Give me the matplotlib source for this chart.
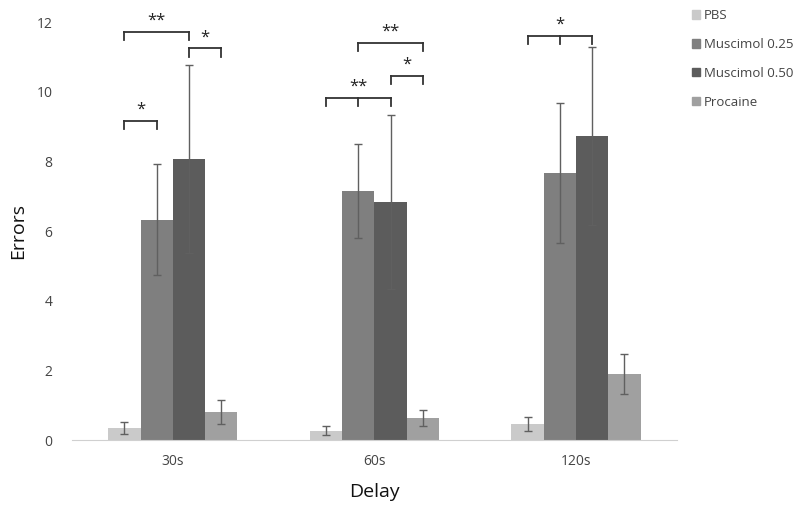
import matplotlib
matplotlib.use("Agg")
import matplotlib.pyplot as plt
import numpy as np
from matplotlib.patches import Patch

plt.rcParams['font.family'] = ['Open Sans', 'DejaVu Sans']

delays = ["30s", "60s", "120s"]
series = ["PBS", "Muscimol 0.25", "Muscimol 0.50", "Procaine"]
colors = ["#cacaca", "#7f7f7f", "#5c5c5c", "#a0a0a0"]

pbs = [0.35, 0.26, 0.46]
pbs_err = [0.18, 0.13, 0.2]
mus25 = [6.33, 7.15, 7.67]
mus25_err = [1.6, 1.35, 2.0]
mus50 = [8.08, 6.83, 8.73]
mus50_err = [2.7, 2.5, 2.55]
procaine = [0.81, 0.63, 1.9]
procaine_err = [0.35, 0.22, 0.57]

values = [pbs, mus25, mus50, procaine]
errors = [pbs_err, mus25_err, mus50_err, procaine_err]

# significance brackets: (group, bar indices spanned, level, label)
brackets = [
    (0, [0, 1], 9.17, "*"),
    (0, [0, 2], 11.72, "**"),
    (0, [2, 3], 11.24, "*"),
    (1, [1, 3], 11.41, "**"),
    (1, [2, 3], 10.46, "*"),
    (1, [0, 1, 2], 9.83, "**"),
    (2, [0, 1, 2], 11.61, "*"),
]

fig = plt.figure(figsize=(8, 5.12), dpi=100)
ax = fig.add_axes([0.09, 0.1406, 0.756, 0.8164])

x = np.arange(len(delays))
w = 0.16
offsets = (np.arange(len(series)) - 1.5) * w
for i, (vals, errs) in enumerate(zip(values, errors)):
    ax.bar(x + offsets[i], vals, width=w, color=colors[i], label=series[i],
           yerr=errs, error_kw=dict(ecolor="#606060", elinewidth=1.0,
                                    capsize=3, capthick=1.0))

tick_h = 0.23
for g, idx, lvl, lab in brackets:
    xs = [g + offsets[k] for k in idx]
    ax.plot([xs[0], xs[-1]], [lvl, lvl], color="#333333", lw=1.3)
    for xx in xs:
        ax.plot([xx, xx], [lvl, lvl - tick_h], color="#333333", lw=1.3)
    ax.text((xs[0] + xs[-1]) / 2 if len(idx) == 2 else xs[1], lvl + 0.08, lab,
            ha="center", va="bottom", fontsize=12, color="#222222")

ax.set_xlim(-0.5, 2.5)
ax.set_ylim(0, 12)
ax.set_yticks(np.arange(0, 13, 2))
ax.set_xticks(x)
ax.set_xticklabels(delays)
ax.tick_params(length=0, labelsize=10, colors="#444444", pad=10)
ax.tick_params(axis='y', pad=14)
for s in ["top", "right", "left"]:
    ax.spines[s].set_visible(False)
ax.spines["bottom"].set_color("#d0d0d0")
ax.set_ylabel("Errors", fontsize=14, color="#111111")
ax.yaxis.set_label_coords(-0.075, 0.5)
ax.set_xlabel("Delay", fontsize=14, color="#111111", labelpad=10)

handles = [Patch(color=c, label=s) for c, s in zip(colors, series)]
fig.legend(handles=handles, loc="upper left", bbox_to_anchor=(0.853, 1.0),
           frameon=False, fontsize=9.5, handlelength=0.6, handleheight=0.6,
           handletextpad=0.3, labelspacing=1.2, labelcolor="#444444",
           borderaxespad=0.3)

fig.savefig("out.png", dpi=100)
